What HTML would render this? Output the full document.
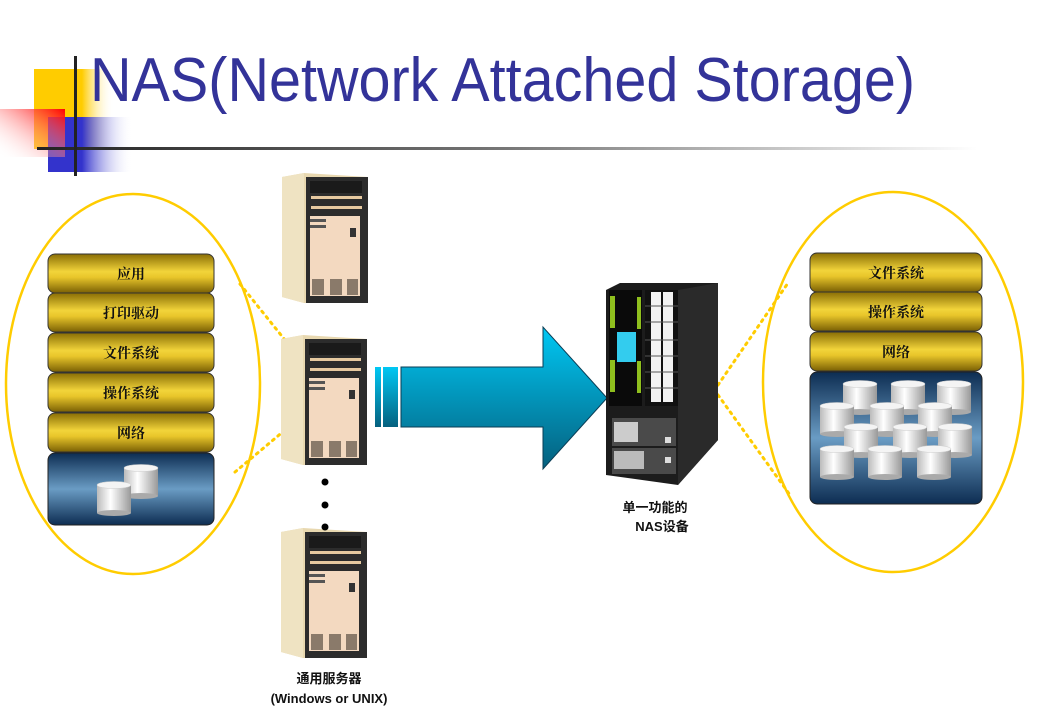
<!DOCTYPE html>
<html><head><meta charset="utf-8"><style>
html,body{margin:0;padding:0;background:#fff;width:1037px;height:713px;overflow:hidden}
svg{display:block}
</style></head><body>
<svg width="1037" height="713" viewBox="0 0 1037 713" xmlns="http://www.w3.org/2000/svg">
<defs>
<linearGradient id="gold" x1="0" y1="0" x2="0" y2="1">
<stop offset="0" stop-color="#8a6e05"/><stop offset="0.45" stop-color="#f2d43a"/><stop offset="0.6" stop-color="#e8c52a"/><stop offset="1" stop-color="#7a6004"/></linearGradient>
<linearGradient id="blue" x1="0" y1="0" x2="0" y2="1">
<stop offset="0" stop-color="#0d2d52"/><stop offset="0.5" stop-color="#6a9cc4"/><stop offset="1" stop-color="#0d2d52"/></linearGradient>
<linearGradient id="cyl" x1="0" y1="0" x2="1" y2="0">
<stop offset="0" stop-color="#bbb"/><stop offset="0.4" stop-color="#fff"/><stop offset="1" stop-color="#999"/></linearGradient>
<linearGradient id="arr" x1="0" y1="0" x2="0" y2="1">
<stop offset="0" stop-color="#00c8f4"/><stop offset="1" stop-color="#05607e"/></linearGradient>
<linearGradient id="yel" x1="0" y1="0" x2="1" y2="0"><stop offset="0.6" stop-color="#ffcc00"/><stop offset="1" stop-color="#fff" stop-opacity="0"/></linearGradient>
<linearGradient id="blu" x1="0" y1="0" x2="1" y2="0"><stop offset="0.4" stop-color="#3333cc"/><stop offset="1" stop-color="#fff" stop-opacity="0"/></linearGradient>
<linearGradient id="red" x1="1" y1="0" x2="0" y2="1"><stop offset="0" stop-color="#ff0000"/><stop offset="1" stop-color="#fff" stop-opacity="0"/></linearGradient>
<linearGradient id="line" x1="0" y1="0" x2="1" y2="0"><stop offset="0" stop-color="#222"/><stop offset="0.5" stop-color="#777"/><stop offset="1" stop-color="#fff"/></linearGradient>
<g id="c">
<rect x="0" y="4" width="34" height="28" fill="url(#cyl)"/>
<ellipse cx="17" cy="32" rx="17" ry="3" fill="#aaa"/>
<ellipse cx="17" cy="4" rx="17" ry="3.5" fill="#f4f4f4" stroke="#ccc" stroke-width="0.5"/>
</g>
<g id="srv">
<polygon points="0,4 22,0 86,4 86,130 22,130 0,124" fill="#e8d8b0"/>
<polygon points="0,4 22,0 22,130 0,124" fill="#efe3c2"/>
<rect x="24" y="4" width="62" height="126" fill="#2c2c2c"/>
<rect x="28" y="8" width="52" height="12" fill="#1a1a1a"/>
<rect x="29" y="23" width="51" height="3" fill="#e6c9a0"/>
<rect x="29" y="33" width="51" height="3" fill="#e6c9a0"/>
<rect x="28" y="43" width="50" height="80" fill="#f3d9c0"/>
<rect x="28" y="46" width="16" height="3" fill="#555"/><rect x="28" y="52" width="16" height="3" fill="#555"/>
<rect x="68" y="55" width="6" height="9" fill="#333"/>
<rect x="30" y="106" width="12" height="16" fill="#8a7a6a"/><rect x="48" y="106" width="12" height="16" fill="#8a7a6a"/><rect x="65" y="106" width="11" height="16" fill="#8a7a6a"/>
</g>
</defs>

<!-- logo decoration -->
<rect x="34" y="69" width="80" height="80" fill="url(#yel)"/>
<rect x="48" y="117" width="85" height="55" fill="url(#blu)"/>
<rect x="0" y="109" width="65" height="48" fill="url(#red)"/>
<rect x="37" y="147" width="940" height="3" fill="url(#line)"/>
<rect x="74" y="56" width="3" height="120" fill="#222"/>
<text x="90" y="101" font-family="Liberation Sans, sans-serif" font-size="62" fill="#333399" textLength="825" lengthAdjust="spacingAndGlyphs">NAS(Network Attached Storage)</text>

<!-- ellipses -->
<ellipse cx="133" cy="384" rx="127" ry="190" fill="none" stroke="#ffcc00" stroke-width="2.5"/>
<ellipse cx="893" cy="382" rx="130" ry="190" fill="none" stroke="#ffcc00" stroke-width="2.5"/>
<g stroke="#ffcc00" stroke-width="3" stroke-dasharray="2 5" stroke-linecap="round" fill="none">
<path d="M240 284 L285 340"/><path d="M235 472 L285 430"/>
<path d="M718 385 L788 283"/><path d="M718 395 L790 495"/>
</g>

<!-- left stack -->
<g font-family="Liberation Serif, 'Noto Serif CJK SC', serif" font-weight="bold" font-size="14" text-anchor="middle" fill="#111">
<rect x="48" y="254" width="166" height="39" rx="7" fill="url(#gold)" stroke="#333"/>
<text x="131" y="279">应用</text>
<rect x="48" y="293" width="166" height="39" rx="7" fill="url(#gold)" stroke="#333"/>
<text x="131" y="318">打印驱动</text>
<rect x="48" y="333" width="166" height="39" rx="7" fill="url(#gold)" stroke="#333"/>
<text x="131" y="358">文件系统</text>
<rect x="48" y="373" width="166" height="39" rx="7" fill="url(#gold)" stroke="#333"/>
<text x="131" y="398">操作系统</text>
<rect x="48" y="413" width="166" height="39" rx="7" fill="url(#gold)" stroke="#333"/>
<text x="131" y="438">网络</text>
<rect x="48" y="453" width="166" height="72" rx="7" fill="url(#blue)" stroke="#222"/>
<use href="#c" x="124" y="464"/>
<use href="#c" x="97" y="481"/>

<!-- right stack -->
<rect x="810" y="253" width="172" height="39" rx="7" fill="url(#gold)" stroke="#333"/>
<text x="896" y="278">文件系统</text>
<rect x="810" y="292" width="172" height="39" rx="7" fill="url(#gold)" stroke="#333"/>
<text x="896" y="317">操作系统</text>
<rect x="810" y="332" width="172" height="39" rx="7" fill="url(#gold)" stroke="#333"/>
<text x="896" y="357">网络</text>
<rect x="810" y="372" width="172" height="132" rx="7" fill="url(#blue)" stroke="#222"/>
<use href="#c" x="843" y="380"/><use href="#c" x="891" y="380"/><use href="#c" x="937" y="380"/>
<use href="#c" x="820" y="402"/><use href="#c" x="870" y="402"/><use href="#c" x="918" y="402"/>
<use href="#c" x="844" y="423"/><use href="#c" x="893" y="423"/><use href="#c" x="938" y="423"/>
<use href="#c" x="820" y="445"/><use href="#c" x="868" y="445"/><use href="#c" x="917" y="445"/>
</g>

<!-- servers -->
<use href="#srv" x="282" y="173"/>
<use href="#srv" x="281" y="335"/>
<use href="#srv" x="281" y="528"/>
<circle cx="325" cy="482" r="3.5" fill="#000"/>
<circle cx="325" cy="505" r="3.5" fill="#000"/>
<circle cx="325" cy="527" r="3.5" fill="#000"/>

<!-- arrow -->
<rect x="375" y="367" width="6" height="60" fill="url(#arr)"/>
<rect x="383" y="367" width="15" height="60" fill="url(#arr)"/>
<polygon points="401,367 543,367 543,327 607,398 543,469 543,427 401,427" fill="url(#arr)" stroke="#0a3d55" stroke-width="1"/>

<!-- NAS tower -->
<polygon points="606,290 620,283 718,283 718,440 678,485 606,475" fill="#1c1c1c"/>
<polygon points="678,290 718,283 718,440 678,485" fill="#2a2a2a"/>
<rect x="609" y="290" width="33" height="116" fill="#0a0a0a"/>
<rect x="610" y="296" width="5" height="32" fill="#8fbf1e"/><rect x="637" y="297" width="4" height="32" fill="#8fbf1e"/>
<rect x="610" y="360" width="5" height="32" fill="#8fbf1e"/><rect x="637" y="361" width="4" height="32" fill="#8fbf1e"/>
<rect x="617" y="332" width="19" height="30" fill="#33ccee"/>
<rect x="645" y="290" width="33" height="116" fill="#111"/>
<g fill="#f2f2f2">
<rect x="651" y="292" width="10" height="110"/><rect x="663" y="292" width="10" height="110"/>
</g>
<g stroke="#555" stroke-width="1">
<line x1="645" y1="306" x2="678" y2="306"/><line x1="645" y1="322" x2="678" y2="322"/><line x1="645" y1="340" x2="678" y2="340"/>
<line x1="645" y1="356" x2="678" y2="356"/><line x1="645" y1="372" x2="678" y2="372"/><line x1="645" y1="388" x2="678" y2="388"/>
</g>
<rect x="612" y="418" width="64" height="28" fill="#4a4a4a"/>
<rect x="614" y="422" width="24" height="20" fill="#ccc"/>
<rect x="612" y="448" width="64" height="26" fill="#4a4a4a"/>
<rect x="614" y="451" width="30" height="18" fill="#bbb"/>
<rect x="665" y="437" width="6" height="6" fill="#ddd"/><rect x="665" y="457" width="6" height="6" fill="#ddd"/>

<g font-family="Liberation Sans, 'Noto Sans CJK SC', sans-serif" font-weight="bold" font-size="13" fill="#111" text-anchor="middle">
<text x="655" y="512">单一功能的</text>
<text x="662" y="531">NAS设备</text>
<text x="329" y="683">通用服务器</text>
<text x="329" y="703">(Windows or UNIX)</text>
</g>
</svg>
</body></html>
